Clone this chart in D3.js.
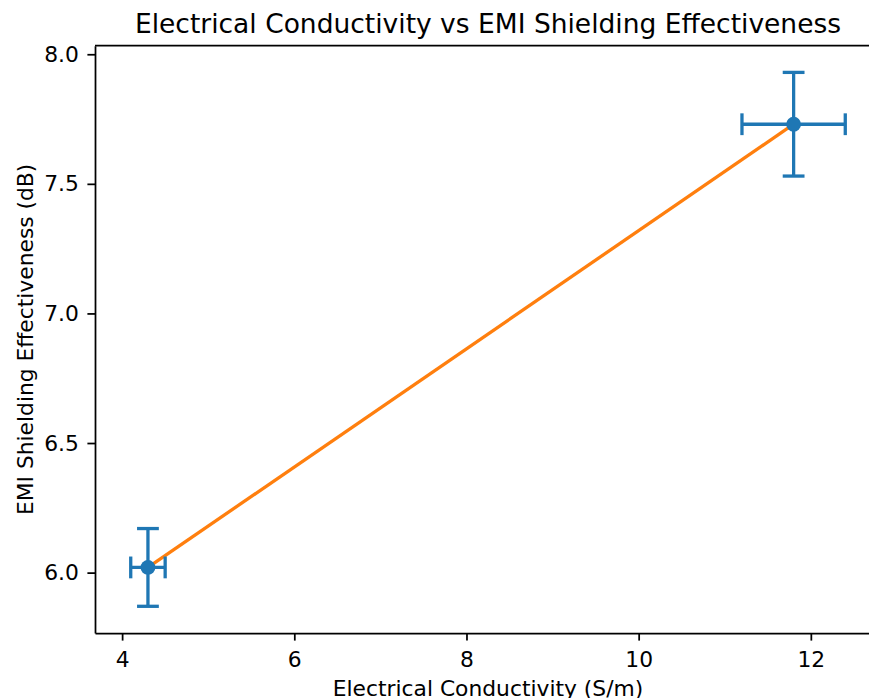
<!DOCTYPE html>
<html lang="en">

<head>
  <meta charset="UTF-8" />
  <title>Electrical Conductivity vs EMI Shielding Effectiveness</title>
  <script src="https://d3js.org/d3.v7.min.js"></script>
  <style>
    body {
      margin: 0;
      background: #fff;
    }

    svg {
      display: block;
      font-family: "DejaVu Sans", sans-serif;
    }

    .axis text {
      font-family: "DejaVu Sans", sans-serif;
      font-size: 21.8px;
      fill: #000;
    }

    .axis path,
    .axis line {
      stroke: #000;
      stroke-width: 1.75px;
    }
  </style>
</head>

<body>
  <svg width="869" height="698"></svg>

  <script>
    // values
    const conductivity = [4.3, 11.8];
    const conductivityErr = [0.2, 0.6];
    const shielding = [6.02, 7.73];
    const shieldingErr = [0.15, 0.2];
    const xTicks = [4, 6, 8, 10, 12];
    const yTicks = [6.0, 6.5, 7.0, 7.5, 8.0];

    const points = conductivity.map((c, i) => ({
      x: c,
      xe: conductivityErr[i],
      y: shielding[i],
      ye: shieldingErr[i]
    }));

    const svg = d3.select("svg");
    const margin = { top: 45.7, right: -12, bottom: 65, left: 95 };
    const width = +svg.attr("width") - margin.left - margin.right;
    const height = +svg.attr("height") - margin.top - margin.bottom;
    const chart = svg.append("g").attr("transform", `translate(${margin.left},${margin.top})`);

    // matplotlib-style 5% margins around the error bar extents
    const xMin = d3.min(points, d => d.x - d.xe), xMax = d3.max(points, d => d.x + d.xe);
    const yMin = d3.min(points, d => d.y - d.ye), yMax = d3.max(points, d => d.y + d.ye);
    const xPad = (xMax - xMin) * 0.05, yPad = (yMax - yMin) * 0.05;

    const x = d3.scaleLinear().domain([xMin - xPad, xMax + xPad]).range([0, width]);
    const y = d3.scaleLinear().domain([yMin - yPad, yMax + yPad]).range([height, 0]);

    const blue = "#1f77b4", orange = "#ff7f0e";

    // axes
    chart.append("g")
      .attr("class", "axis")
      .attr("transform", `translate(0,${height})`)
      .call(d3.axisBottom(x).tickValues(xTicks).tickFormat(d3.format("d")).tickSize(7.6).tickSizeOuter(0).tickPadding(11));
    chart.append("g")
      .attr("class", "axis")
      .call(d3.axisLeft(y).tickValues(yTicks).tickFormat(d3.format(".1f")).tickSize(7.6).tickSizeOuter(0).tickPadding(8.5));

    // top and right spines
    chart.append("line").attr("x1", 0).attr("x2", width).attr("y1", 0).attr("y2", 0)
      .attr("stroke", "#000").attr("stroke-width", 1.75);
    chart.append("line").attr("x1", width).attr("x2", width).attr("y1", 0).attr("y2", height)
      .attr("stroke", "#000").attr("stroke-width", 1.75);

    // connecting line
    chart.append("path")
      .datum(points)
      .attr("fill", "none")
      .attr("stroke", orange)
      .attr("stroke-width", 3.3)
      .attr("d", d3.line().x(d => x(d.x)).y(d => y(d.y)));

    // error bars
    const cap = 10.9;
    const eb = chart.selectAll(".errbar").data(points).enter().append("g")
      .attr("class", "errbar")
      .attr("stroke", blue)
      .attr("stroke-width", 3.3);
    eb.append("line")
      .attr("x1", d => x(d.x - d.xe)).attr("x2", d => x(d.x + d.xe))
      .attr("y1", d => y(d.y)).attr("y2", d => y(d.y));
    eb.append("line")
      .attr("x1", d => x(d.x)).attr("x2", d => x(d.x))
      .attr("y1", d => y(d.y - d.ye)).attr("y2", d => y(d.y + d.ye));
    [-1, 1].forEach(s => {
      eb.append("line")
        .attr("x1", d => x(d.x + s * d.xe)).attr("x2", d => x(d.x + s * d.xe))
        .attr("y1", d => y(d.y) - cap).attr("y2", d => y(d.y) + cap);
      eb.append("line")
        .attr("x1", d => x(d.x) - cap).attr("x2", d => x(d.x) + cap)
        .attr("y1", d => y(d.y + s * d.ye)).attr("y2", d => y(d.y + s * d.ye));
    });
    chart.selectAll(".dot").data(points).enter().append("circle")
      .attr("class", "dot")
      .attr("cx", d => x(d.x))
      .attr("cy", d => y(d.y))
      .attr("r", 7.4)
      .attr("fill", blue);

    // labels
    const cx = width / 2;
    chart.append("text")
      .attr("x", cx).attr("y", -13)
      .attr("text-anchor", "middle")
      .attr("font-size", 26.5)
      .text("Electrical Conductivity vs EMI Shielding Effectiveness");
    chart.append("text")
      .attr("x", cx).attr("y", height + 63)
      .attr("text-anchor", "middle")
      .attr("font-size", 21.8)
      .text("Electrical Conductivity (S/m)");
    chart.append("text")
      .attr("transform", `translate(${-62.5},${height / 2}) rotate(-90)`)
      .attr("text-anchor", "middle")
      .attr("font-size", 21.8)
      .text("EMI Shielding Effectiveness (dB)");
  </script>
</body>

</html>
